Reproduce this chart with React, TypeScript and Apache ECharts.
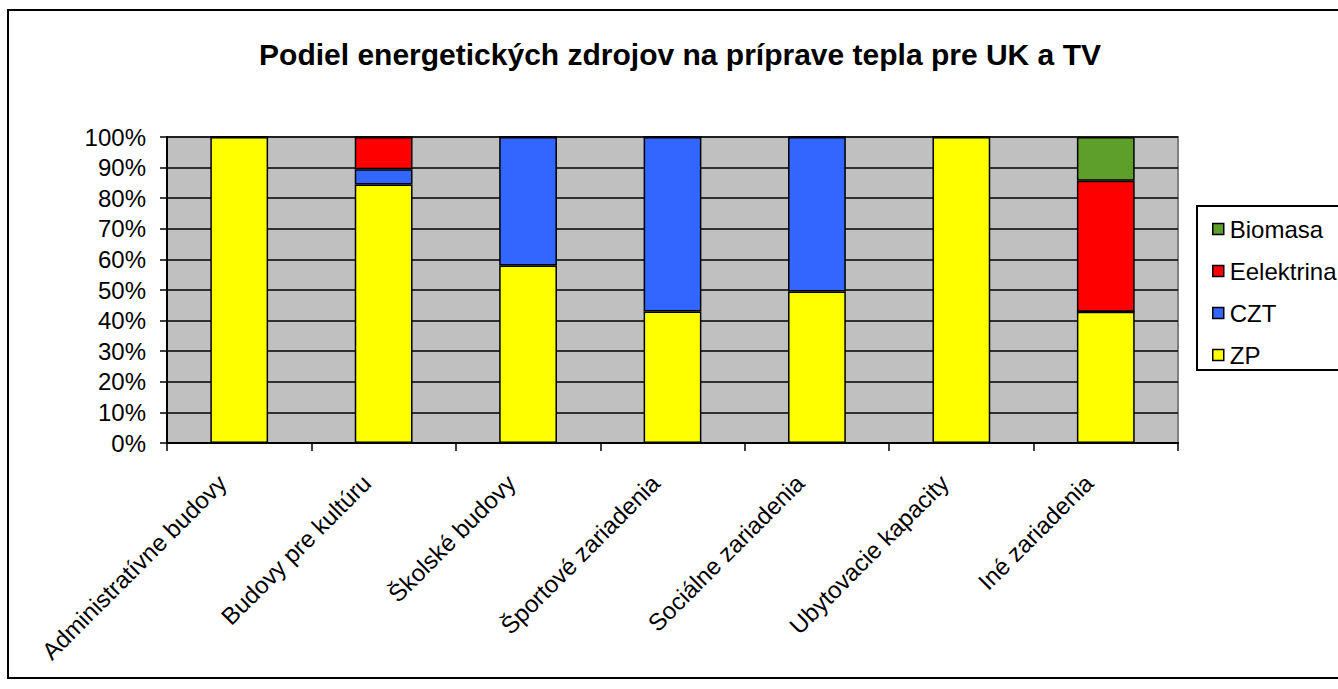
import React, { useEffect, useRef } from "react";
import * as echarts from "echarts";

const categories = [
  "Administratívne budovy",
  "Budovy pre kultúru",
  "Školské budovy",
  "Športové zariadenia",
  "Sociálne zariadenia",
  "Ubytovacie kapacity",
  "Iné zariadenia",
];
const zp = [100, 84.5, 58, 43, 49.5, 100, 42.9];
const czt = [0, 5, 42, 57, 50.5, 0, 0];
const elektrina = [0, 10.5, 0, 0, 0, 0, 42.8];
const biomasa = [0, 0, 0, 0, 0, 0, 14.3];
const yTicks = [0, 10, 20, 30, 40, 50, 60, 70, 80, 90, 100];

const FONT = "Arial, 'Liberation Sans', sans-serif";

export default function App() {
  const ref = useRef<HTMLDivElement>(null);
  useEffect(() => {
    const chart = echarts.init(ref.current!, undefined, { renderer: "svg" });
    const barStyle = (color: string) => ({
      color,
      borderColor: "#000",
      borderWidth: 1.5,
    });
    const mk = (name: string, data: number[], color: string) => ({
      name,
      type: "bar",
      stack: "s",
      data,
      barWidth: "40%",
      itemStyle: barStyle(color),
    });
    chart.setOption({
      animation: false,
      backgroundColor: "#fff",
      textStyle: { fontFamily: FONT },
      grid: {
        left: 167,
        right: 160,
        top: 137,
        bottom: 246,
        show: true,
        backgroundColor: "#C0C0C0",
        borderColor: "#808080",
        borderWidth: 2,
      },
      legend: {
        orient: "vertical",
        left: 1207,
        top: 212,
        itemWidth: 11,
        itemHeight: 11,
        itemGap: 18,
        icon: "rect",
        data: ["Biomasa", "Eelektrina", "CZT", "ZP"],
        textStyle: { fontFamily: FONT, fontSize: 24, color: "#000", padding: [0, 0, 0, 1] },
        itemStyle: { borderColor: "#000", borderWidth: 1.5 },
      },
      xAxis: {
        type: "category",
        data: categories,
        axisLine: { lineStyle: { color: "#000", width: 2 } },
        axisTick: { show: true, length: 8, lineStyle: { color: "#000", width: 1.5 } },
        axisLabel: {
          interval: 0,
          rotate: 45,
          margin: 19,
          padding: [0, 24, 0, 0],
          fontFamily: FONT,
          fontSize: 24,
          color: "#000",
        },
      },
      yAxis: {
        type: "value",
        min: 0,
        max: 100,
        interval: 10,
        axisLine: { show: true, lineStyle: { color: "#000", width: 2 } },
        axisTick: { show: true, length: 7, lineStyle: { color: "#000", width: 1.5 } },
        axisLabel: {
          formatter: (v: number) => (yTicks.includes(v) ? v + "%" : ""),
          margin: 21,
          fontFamily: FONT,
          fontSize: 24,
          color: "#000",
        },
        splitLine: { lineStyle: { color: "#000", width: 1.5 } },
      },
      series: [
        mk("ZP", zp, "#FFFF00"),
        mk("CZT", czt, "#3366FF"),
        mk("Eelektrina", elektrina, "#FF0000"),
        mk("Biomasa", biomasa, "#5E9E2A"),
      ],
      graphic: [
        {
          type: "rect",
          shape: { x: 8, y: 10, width: 1340, height: 668 },
          style: { fill: "none", stroke: "#000", lineWidth: 2 },
          silent: true,
        },
        {
          type: "rect",
          shape: { x: 1197, y: 206, width: 150, height: 164 },
          style: { fill: "none", stroke: "#000", lineWidth: 2 },
          silent: true,
        },
        {
          type: "text",
          x: 680,
          y: 54,
          style: {
            text: "Podiel energetických zdrojov na príprave tepla pre UK a TV",
            font: "bold 30px " + FONT,
            fill: "#000",
            textAlign: "center",
            textVerticalAlign: "middle",
          },
        },
      ],
    });
    return () => chart.dispose();
  }, []);
  return (
    <div
      ref={ref}
      style={{ position: "fixed", left: 0, top: 0, width: 1338, height: 689 }}
    />
  );
}
